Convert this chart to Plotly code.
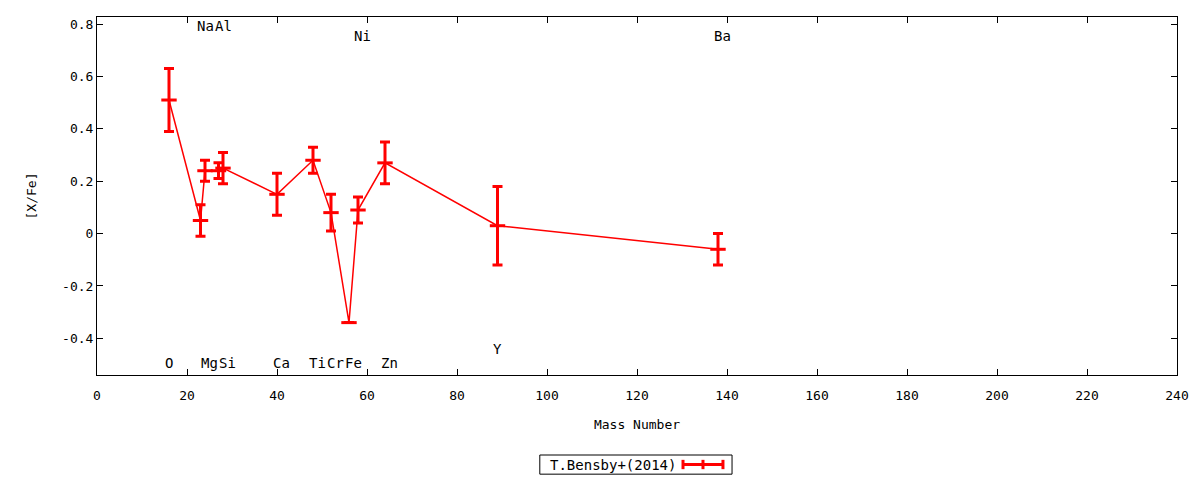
import plotly.graph_objects as go

# [X/Fe] abundances, T.Bensby+(2014)
elements = ['O', 'Na', 'Mg', 'Al', 'Si', 'Ca', 'Ti', 'Cr', 'Fe', 'Ni', 'Zn', 'Y', 'Ba']
mass = [16, 23, 24, 27, 28, 40, 48, 52, 56, 58, 64, 89, 138]
xfe = [0.51, 0.05, 0.24, 0.24, 0.25, 0.15, 0.28, 0.08, -0.34, 0.09, 0.27, 0.03, -0.06]
err = [0.12, 0.06, 0.04, 0.03, 0.06, 0.08, 0.05, 0.07, 0.0, 0.05, 0.08, 0.15, 0.06]

# where the element names sit
label_x = [16, 24, 25, 28, 29, 41, 49, 53, 57, 59, 65, 89, 139]
label_y = [-0.494, 0.793, -0.494, 0.793, -0.494, -0.494, -0.494, -0.494, -0.494,
           0.755, -0.494, -0.44, 0.755]

ytick_vals = [-0.4, -0.2, 0, 0.2, 0.4, 0.6, 0.8]
ytick_text = ['-0.4', '-0.2', '0', '0.2', '0.4', '0.6', '0.8']

FONT = 'DejaVu Sans Mono'
RED = '#ff0000'

fig = go.Figure()
fig.add_trace(go.Scatter(
    x=mass, y=xfe,
    mode='lines+markers',
    name='T.Bensby+(2014)',
    line=dict(color=RED, width=1.5),
    marker=dict(symbol='line-ew', size=11, color=RED,
                line=dict(color=RED, width=3)),
    error_y=dict(type='data', array=err, color=RED, thickness=3, width=5),
    showlegend=False,
))

for el, lx, ly in zip(elements, label_x, label_y):
    fig.add_annotation(x=lx, y=ly, text=el, showarrow=False,
                       font=dict(family=FONT, size=14, color='black'))

# gnuplot style key: text first, then the sample
fig.add_shape(type='rect', xref='paper', yref='paper',
              x0=0.410, x1=0.588, y0=-0.277, y1=-0.2235,
              line=dict(color='black', width=1))
fig.add_annotation(xref='paper', yref='paper', x=0.4176, y=-0.25,
                   xanchor='left', yanchor='middle', showarrow=False,
                   text='T.Bensby+(2014)', font=dict(family=FONT, size=14, color='black'))
ky = -0.25
for x0, x1, y0, y1 in [(0.5426, 0.5796, ky, ky),
                       (0.5426, 0.5426, ky - 0.013, ky + 0.013),
                       (0.5796, 0.5796, ky - 0.013, ky + 0.013),
                       (0.5611, 0.5611, ky - 0.013, ky + 0.013)]:
    fig.add_shape(type='line', xref='paper', yref='paper',
                  x0=x0, x1=x1, y0=y0, y1=y1,
                  line=dict(color=RED, width=3))

axis_common = dict(
    showgrid=False, zeroline=False, showline=True, linecolor='black', linewidth=1,
    mirror='allticks', ticks='inside', ticklen=6, tickcolor='black',
    tickfont=dict(family=FONT, size=13, color='black'),
)

fig.update_xaxes(range=[0, 240], dtick=20, tick0=0, ticklabelstandoff=8,
                 title=dict(text='Mass Number', standoff=18,
                            font=dict(family=FONT, size=13, color='black')),
                 **axis_common)
fig.update_yaxes(range=[-0.54, 0.827], tickvals=ytick_vals, ticktext=ytick_text,
                 title=dict(text='[X/Fe]', standoff=22,
                            font=dict(family=FONT, size=13, color='black')),
                 **axis_common)

fig.update_layout(
    width=1200, height=480,
    margin=dict(l=97, r=23, t=17, b=105),
    plot_bgcolor='white', paper_bgcolor='white',
)

# drop the default body margin so the figure sits flush in the window
fig.write_html('out.html', config={'displayModeBar': False},
               post_script="document.body.style.margin='0';document.body.style.overflow='hidden';")
